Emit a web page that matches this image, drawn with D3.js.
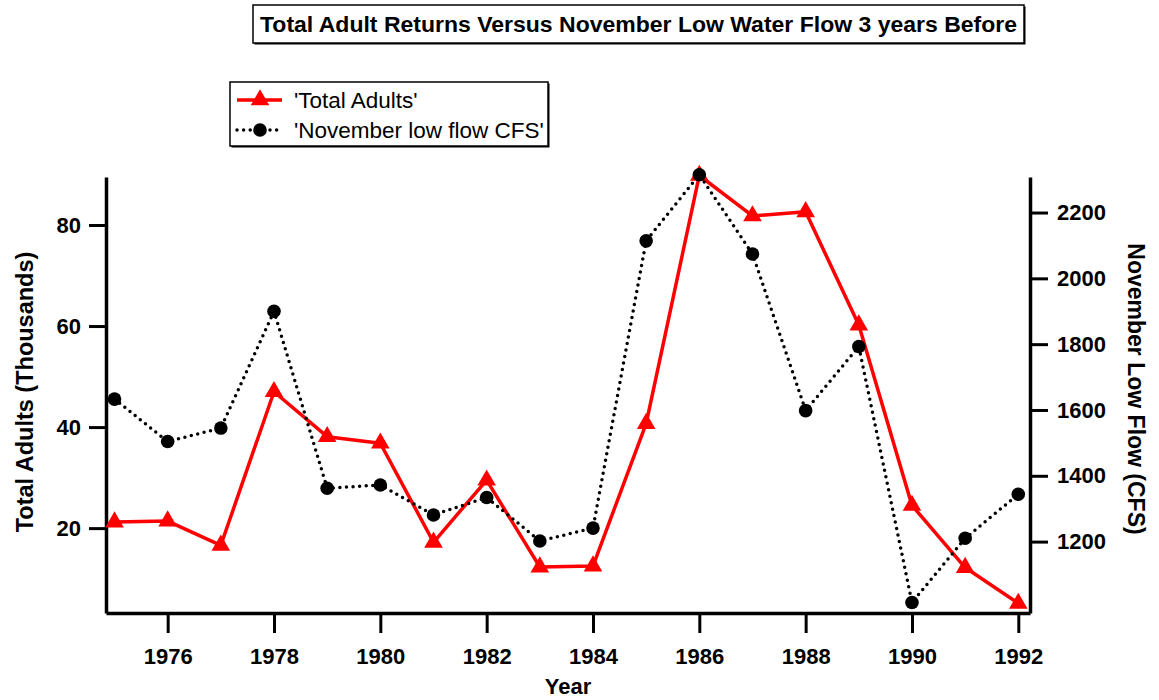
<!DOCTYPE html>
<html>
<head>
<meta charset="utf-8">
<script src="https://cdn.jsdelivr.net/npm/d3@7"></script>
<style>
  body { margin: 0; background: #fff; }
  svg { display: block; font-family: "Liberation Sans", Arial, sans-serif; }
  .axis path, .axis line { stroke: #000; }
  .axis text { font-size: 22px; font-weight: bold; fill: #000; }
</style>
</head>
<body>
<div id="chart"></div>
<script>
// Data
const years = [1975, 1976, 1977, 1978, 1979, 1980, 1981, 1982, 1983, 1984,
               1985, 1986, 1987, 1988, 1989, 1990, 1991, 1992];
const totalAdults = [21.2, 21.4, 16.6, 47.0, 38.1, 36.8, 17.2, 29.5, 12.3, 12.5,
                     40.7, 89.8, 81.8, 82.6, 60.2, 24.5, 12.2, 5.1];
const lowFlowCFS = [1633, 1504, 1545, 1900, 1362, 1372, 1281, 1334, 1202, 1241,
                    2114, 2315, 2074, 1598, 1793, 1015, 1210, 1344];
const yearTicks = [1976, 1978, 1980, 1982, 1984, 1986, 1988, 1990, 1992];
const adultTicks = [20, 40, 60, 80];
const flowTicks = [1200, 1400, 1600, 1800, 2000, 2200];
const seriesNames = ["'Total Adults'", "'November low flow CFS'"];

const width = 1159;
const height = 700;
const plot = { left: 106, right: 1030, top: 177, bottom: 613 };

const svg = d3.select("#chart")
    .append("svg")
    .attr("width", width)
    .attr("height", height);

// Scales
const x = d3.scaleLinear()
    .domain([1974.84, 1992.22])
    .range([plot.left, plot.right]);

const yLeft = d3.scaleLinear()
    .domain([3.2, 89.5])
    .range([plot.bottom, plot.top]);

const yRight = d3.scaleLinear()
    .domain([983, 2308])
    .range([plot.bottom, plot.top]);

// Axes
svg.append("g")
    .attr("class", "axis")
    .attr("transform", `translate(0,${plot.bottom})`)
    .call(d3.axisBottom(x).tickValues(yearTicks).tickFormat(d3.format("d"))
        .tickSize(20).tickSizeOuter(0).tickPadding(15));

svg.append("g")
    .attr("class", "axis")
    .attr("transform", `translate(${plot.left},0)`)
    .call(d3.axisLeft(yLeft).tickValues(adultTicks)
        .tickSize(17).tickSizeOuter(0).tickPadding(8));

svg.append("g")
    .attr("class", "axis")
    .attr("transform", `translate(${plot.right},0)`)
    .call(d3.axisRight(yRight).tickValues(flowTicks).tickFormat(d3.format("d"))
        .tickSize(18).tickSizeOuter(0).tickPadding(9));

svg.selectAll(".axis path").attr("stroke-width", 3.5);
svg.selectAll(".axis line").attr("stroke-width", 3);

// Axis titles
svg.append("text")
    .attr("transform", `translate(33,392) rotate(-90)`)
    .attr("text-anchor", "middle")
    .attr("font-size", "23.5px")
    .attr("font-weight", "bold")
    .text("Total Adults (Thousands)");

svg.append("text")
    .attr("transform", `translate(1128,389) rotate(90)`)
    .attr("text-anchor", "middle")
    .attr("font-size", "23px")
    .attr("font-weight", "bold")
    .text("November Low Flow (CFS)");

svg.append("text")
    .attr("x", 568)
    .attr("y", 694)
    .attr("text-anchor", "middle")
    .attr("font-size", "22px")
    .attr("font-weight", "bold")
    .text("Year");

// Lines
const adultLine = d3.line()
    .x((d, i) => x(years[i]))
    .y(d => yLeft(d));

const flowLine = d3.line()
    .x((d, i) => x(years[i]))
    .y(d => yRight(d));

const triangle = d3.symbol().type(d3.symbolTriangle).size(150);

svg.append("path")
    .datum(totalAdults)
    .attr("fill", "none")
    .attr("stroke", "#ff0000")
    .attr("stroke-width", 3.5)
    .attr("stroke-linejoin", "round")
    .attr("d", adultLine);

svg.selectAll("path.tri")
    .data(totalAdults)
    .enter()
    .append("path")
    .attr("class", "tri")
    .attr("transform", (d, i) => `translate(${x(years[i])},${yLeft(d)})`)
    .attr("d", triangle)
    .attr("fill", "#ff0000");

svg.append("path")
    .datum(lowFlowCFS)
    .attr("fill", "none")
    .attr("stroke", "#000")
    .attr("stroke-width", 3.5)
    .attr("stroke-linecap", "round")
    .attr("stroke-dasharray", "0 6.6")
    .attr("d", flowLine);

svg.selectAll("circle.flow")
    .data(lowFlowCFS)
    .enter()
    .append("circle")
    .attr("class", "flow")
    .attr("cx", (d, i) => x(years[i]))
    .attr("cy", d => yRight(d))
    .attr("r", 6.8)
    .attr("fill", "#000");

// Title box
svg.append("rect")
    .attr("x", 254.5).attr("y", 6.5)
    .attr("width", 771).attr("height", 38)
    .attr("fill", "#000");
svg.append("rect")
    .attr("x", 253).attr("y", 5)
    .attr("width", 771).attr("height", 38)
    .attr("fill", "#fff")
    .attr("stroke", "#000")
    .attr("stroke-width", 1.5);
svg.append("text")
    .attr("x", 260)
    .attr("y", 32)
    .attr("font-size", "22px")
    .attr("font-weight", "bold")
    .attr("textLength", 757)
    .attr("lengthAdjust", "spacingAndGlyphs")
    .text("Total Adult Returns Versus November Low Water Flow 3 years Before");

// Legend
const legend = svg.append("g");
legend.append("rect")
    .attr("x", 231.5).attr("y", 83.5)
    .attr("width", 318).attr("height", 64)
    .attr("fill", "#000");
legend.append("rect")
    .attr("x", 230).attr("y", 82)
    .attr("width", 318).attr("height", 64)
    .attr("fill", "#fff")
    .attr("stroke", "#000")
    .attr("stroke-width", 1.5);

const legendRows = [100, 130];

legend.append("line")
    .attr("x1", 237).attr("x2", 282)
    .attr("y1", legendRows[0]).attr("y2", legendRows[0])
    .attr("stroke", "#ff0000").attr("stroke-width", 3.5);
legend.append("path")
    .attr("transform", `translate(260,${legendRows[0]})`)
    .attr("d", triangle)
    .attr("fill", "#ff0000");

legend.append("line")
    .attr("x1", 237).attr("x2", 282)
    .attr("y1", legendRows[1]).attr("y2", legendRows[1])
    .attr("stroke", "#000").attr("stroke-width", 3.5)
    .attr("stroke-linecap", "round")
    .attr("stroke-dasharray", "0 6.6");
legend.append("circle")
    .attr("cx", 260).attr("cy", legendRows[1])
    .attr("r", 6.8)
    .attr("fill", "#000");

legend.selectAll("text.legend-label")
    .data(seriesNames)
    .enter()
    .append("text")
    .attr("class", "legend-label")
    .attr("x", 294)
    .attr("y", (d, i) => legendRows[i] + 8)
    .attr("font-size", "22.5px")
    .text(d => d);
</script>
</body>
</html>
